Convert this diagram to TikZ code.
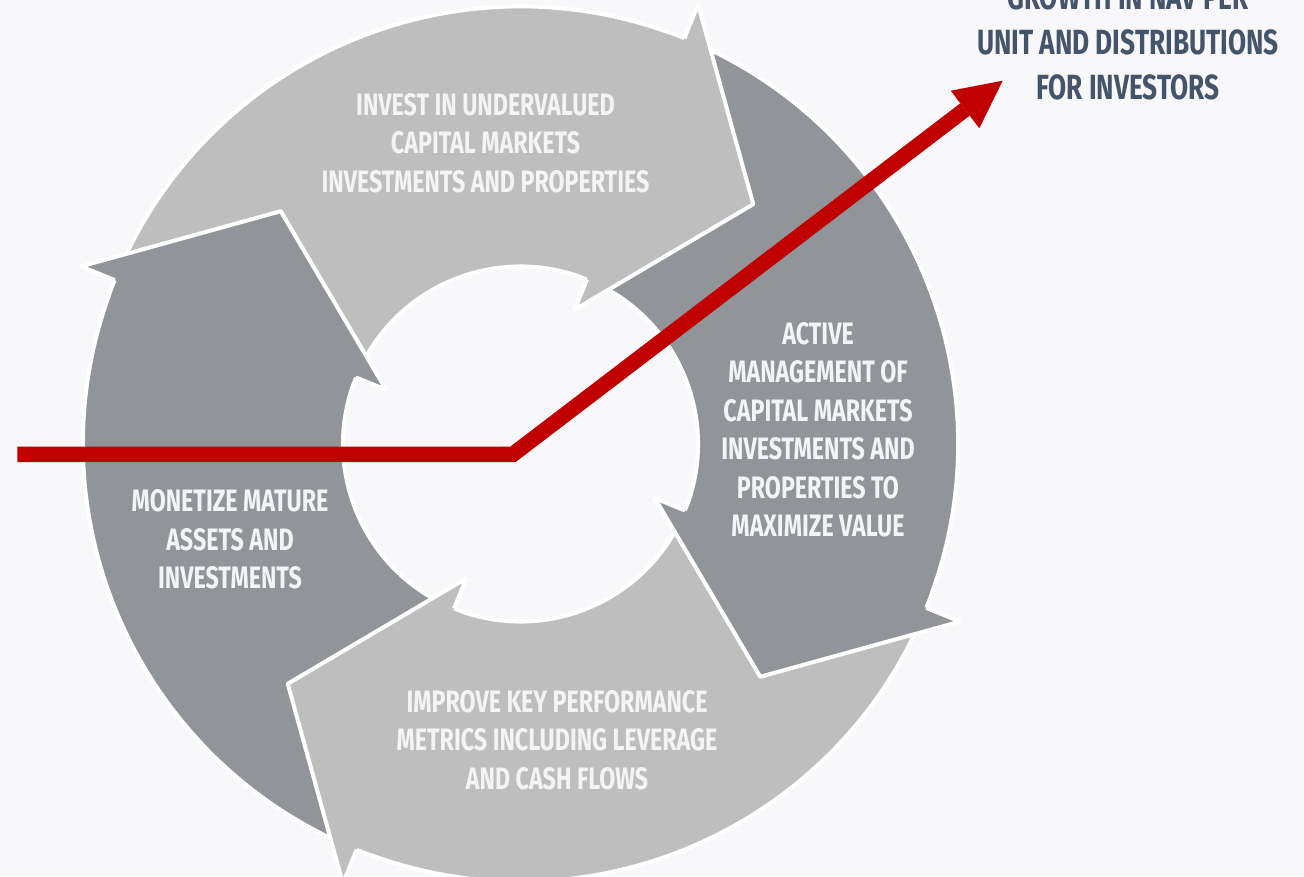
\documentclass[tikz,border=0pt]{standalone}
\usepackage{fontspec}
\newfontfamily\lblfont{Fira Sans}[FakeStretch=0.75]
\usetikzlibrary{calc}
\definecolor{bgc}{HTML}{F8F8FA}
\definecolor{lightg}{HTML}{BEBEBE}
\definecolor{darkg}{HTML}{919599}
\definecolor{redc}{HTML}{C00000}
\definecolor{titlec}{HTML}{44546A}
\definecolor{lblc}{HTML}{F3F4F6}
\tikzset{
  ringline/.style={white, line width=4pt},
  headline/.style={white, line width=4pt, line join=round},
  lbl/.style={text=lblc, font=\lblfont\bfseries\fontsize{31}{38.5}\selectfont, align=center, inner sep=0pt},
  ttl/.style={text=titlec, font=\lblfont\bfseries\fontsize{35}{45}\selectfont, align=center, inner sep=0pt},
  growth/.style={redc, line width=15.5pt, line join=miter},
}
\begin{document}
\begin{tikzpicture}[x=1pt,y=1pt]
\fill[bgc] (0,0) rectangle (1304,876);
\useasboundingbox (0,0) rectangle (1304,876);
\begin{scope}[shift={(520.5,432)}]
  % bodies
  \foreach \a/\c in {68/lightg,-22/darkg,-112/lightg,158/darkg}{
    \fill[\c] (\a+90:437.5) arc[start angle=\a+90, end angle=\a, radius=437.5pt]
      -- (\a:177.5) arc[start angle=\a, end angle=\a+90, radius=177.5pt] -- cycle;
  }
  \foreach \a in {68,-22,-112,158}{
    \draw[ringline] (\a+90:437.5) arc[start angle=\a+90, end angle=\a, radius=437.5pt];
    \draw[ringline] (\a+90:177.5) arc[start angle=\a+90, end angle=\a, radius=177.5pt];
  }
  % heads
  \foreach \a/\c in {68/lightg,-22/darkg,-112/lightg,158/darkg}{
    \coordinate (tip) at ($(\a:309.5)+(\a-90:126)$);
    \fill[\c] (\a+2:179.5) -- (\a:179.5) -- (\a:145) -- (tip) -- (\a:474) -- (\a:435.5) -- (\a+2:435.5) -- cycle;
    \draw[headline] (\a:437.5) -- (\a:474) -- (tip) -- (\a:145) -- (\a:177.5);
  }
\end{scope}
% labels
\node[lbl] (invest) at (485.5,733) {INVEST IN UNDERVALUED\\CAPITAL MARKETS\\INVESTMENTS AND PROPERTIES};
\node[lbl] (active) at (818,446) {ACTIVE\\MANAGEMENT OF\\CAPITAL MARKETS\\INVESTMENTS AND\\PROPERTIES TO\\MAXIMIZE VALUE};
\node[lbl] (improve) at (557,136) {IMPROVE KEY PERFORMANCE\\METRICS INCLUDING LEVERAGE\\AND CASH FLOWS};
\node[lbl] (monetize) at (230,336.5) {MONETIZE MATURE\\ASSETS AND\\INVESTMENTS};
\node[ttl] (growthtxt) at (1128,834) {GROWTH IN NAV PER\\UNIT AND DISTRIBUTIONS\\FOR INVESTORS};
% red growth arrow
\coordinate (rstart) at (17.3,421.7);
\coordinate (rbend) at (513,421.7);
\coordinate (rbase) at (965,766.5);
\coordinate (rtip) at (1002.7,795.3);
\coordinate (rbarbA) at (950.7,785.3);
\coordinate (rbarbB) at (979.3,747.7);
\draw[growth] (rstart) -- (rbend) -- (rbase);
\fill[redc] (rbarbA) -- (rtip) -- (rbarbB) -- cycle;
\end{tikzpicture}
\end{document}
